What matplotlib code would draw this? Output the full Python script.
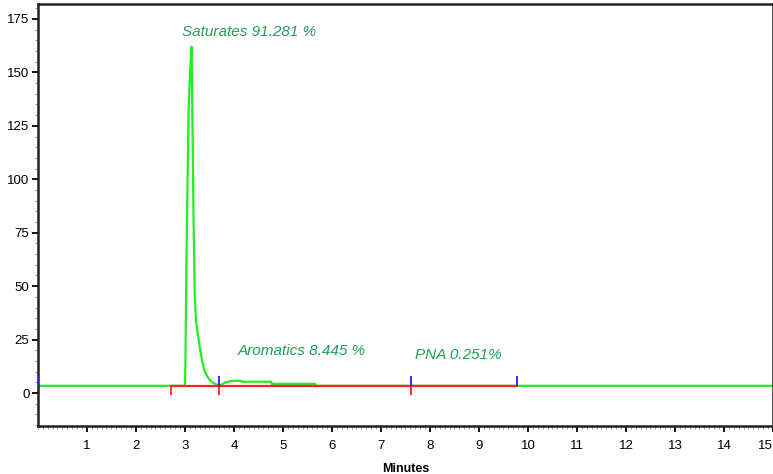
import matplotlib
matplotlib.use("Agg")
import matplotlib.pyplot as plt
from matplotlib.ticker import MultipleLocator

# detector trace (minutes, signal)
trace_t = [0.0, 3.0, 3.01, 3.03, 3.075, 3.106, 3.136, 3.157, 3.177, 3.2, 3.215,
           3.23, 3.26, 3.3, 3.33, 3.36, 3.40, 3.44, 3.5, 3.55, 3.6, 3.67, 3.72,
           3.81, 3.94, 4.15, 4.16, 4.76, 4.77, 5.66, 5.67, 15.0]
trace_y = [3.4, 3.4, 13.0, 60.0, 132.0, 150.0, 162.0, 121.0, 80.0, 46.0, 39.0,
           33.0, 28.0, 22.0, 18.0, 14.0, 10.5, 8.4, 6.3, 5.2, 4.5, 3.8, 3.6,
           4.8, 5.7, 5.7, 5.3, 5.3, 4.3, 4.3, 3.4, 3.4]

# integration baseline and event marks
base_start, base_end, base_y = 2.71, 9.78, 3.3
red_marks = [2.71, 3.7, 7.62]
blue_marks = [0.0, 3.7, 7.62, 9.78]

labels = ["Saturates 91.281 %", "Aromatics 8.445 %", "PNA 0.251%"]
label_x = [2.95, 4.07, 7.70]
label_y = [168.7, 19.6, 17.8]

fig = plt.figure(figsize=(7.73, 4.74), dpi=100)
ax = fig.add_axes([0.049, 0.1013, 0.951, 0.8903])

ax.plot(trace_t, trace_y, color="#22ee22", lw=1.6, zorder=2)
ax.plot([base_start, base_end], [base_y, base_y], color="#ff2222", lw=1.6, zorder=3)
ax.vlines(red_marks, -1.0, base_y, color="#ff2222", lw=1.3, zorder=3)
ax.vlines(blue_marks, base_y, 8.0, color="#2222ff", lw=1.3, zorder=4)

for s, x, y in zip(labels, label_x, label_y):
    ax.text(x, y, s, color="#1fa055", fontsize=11, style="italic",
            family="Liberation Sans", fontstretch="condensed", va="center")

ax.set_xlim(0, 15)
ax.set_ylim(-15.4, 182)
ax.xaxis.set_minor_locator(MultipleLocator(0.1))
ax.yaxis.set_major_locator(MultipleLocator(25))
ax.yaxis.set_minor_locator(MultipleLocator(5))
ax.set_xticks(range(1, 16))
ax.tick_params(which="major", length=4, width=1.3, labelsize=9.5, pad=6)
ax.tick_params(which="minor", length=2, width=0.7, color="#999999")
for lab in ax.get_xticklabels() + ax.get_yticklabels():
    lab.set_family("Liberation Sans")
# last label sits on the figure edge
ax.get_xticklabels()[-1].set_ha("right")
ax.yaxis.set_tick_params(pad=2)

for sp in ax.spines.values():
    sp.set_linewidth(1.8)
    sp.set_color("#222222")

ax.set_xlabel("Minutes", fontsize=9, fontweight="bold", family="Liberation Sans",
              labelpad=8)

fig.savefig("out.png", dpi=100)
